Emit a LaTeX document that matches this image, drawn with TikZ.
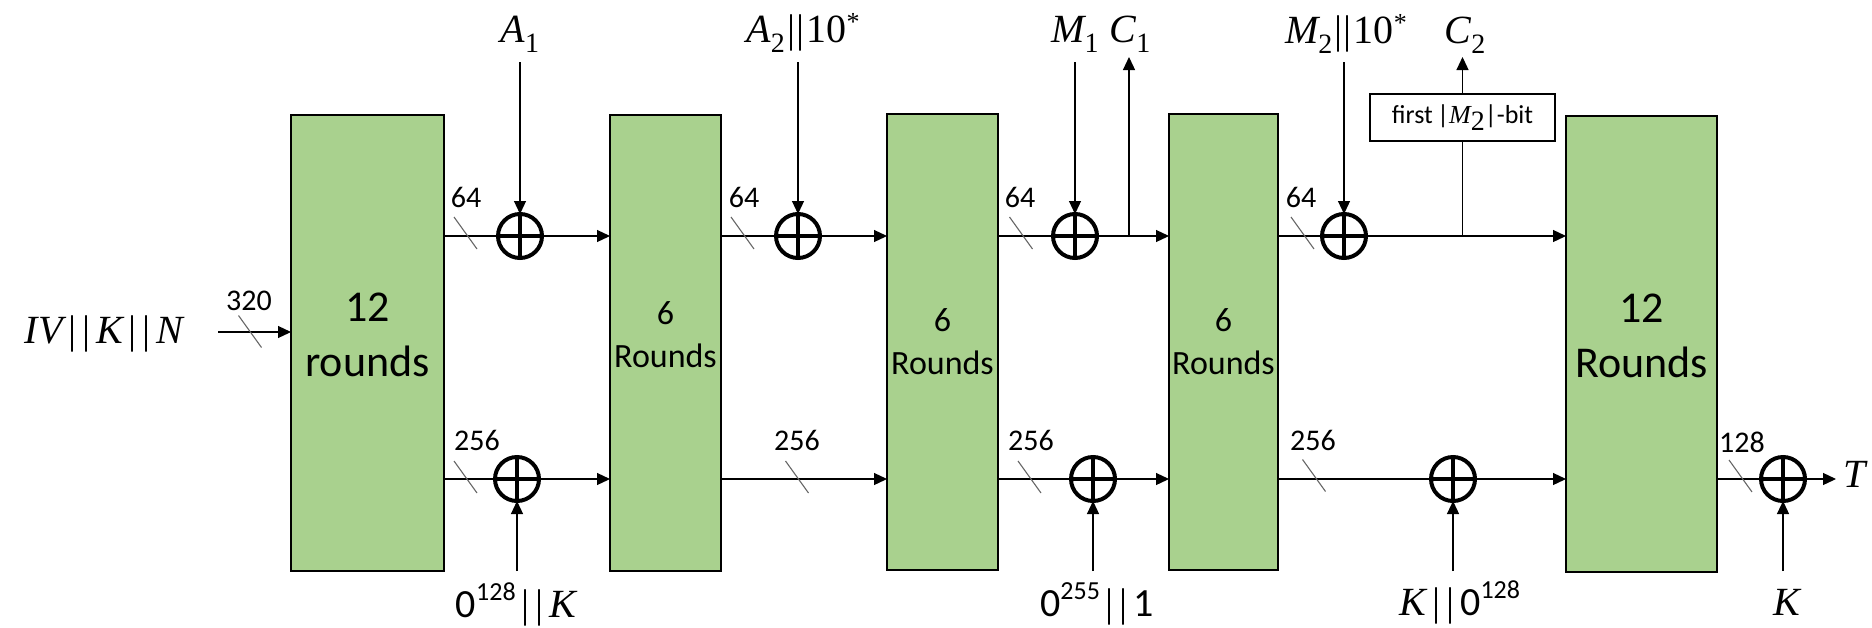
\documentclass[tikz,border=0pt]{standalone}
\usepackage{fontspec}
\setmainfont{Carlito}
\newfontfamily\serifvar{Liberation Serif}
\usetikzlibrary{arrows.meta,calc}

\definecolor{permgreen}{HTML}{A9D18E}

% italic variable, subscript, superscript and concatenation bars
\newcommand{\vv}[1]{{\serifvar\itshape #1}}
\newcommand{\sbs}[1]{\raisebox{-0.25em}{\serifvar\fontsize{14}{14}\selectfont #1}}
\newcommand{\sps}[1]{\raisebox{0.42em}{\fontsize{13}{13}\selectfont #1}}
\newcommand{\ssps}[1]{\raisebox{0.3em}{\serifvar\fontsize{13}{13}\selectfont #1}}
\newcommand{\tcat}{{\serifvar\kern0.06em|\kern0.02em|\kern0.06em}}
\newcommand{\wcat}{{\serifvar\kern0.14em|\kern0.16em|\kern0.14em}}

\tikzset{
  every node/.style={inner sep=0pt, outer sep=0pt},
  perm/.style={draw=black, line width=1pt, fill=permgreen, minimum height=228pt},
  bigtext/.style={font=\fontsize{22}{27.5}\selectfont, align=center},
  smalltext/.style={font=\fontsize{17}{21.5}\selectfont, align=center},
  xor/.style={circle, draw=black, line width=2pt, minimum size=22pt,
    path picture={\draw[line width=2pt]
      (path picture bounding box.north) -- (path picture bounding box.south)
      (path picture bounding box.west) -- (path picture bounding box.east);}},
  wire/.style={line width=0.6pt, draw=black},
  arr/.style={wire, -{Triangle[length=6.5pt,width=6pt]}},
  bus/.style={line width=0.55pt, draw=black!60},
  widthlbl/.style={font=\fontsize{15}{18}\selectfont, anchor=base},
  varlbl/.style={font=\fontsize{20}{24}\selectfont, anchor=base},
  selbox/.style={draw=black, line width=1pt, fill=white, minimum width=92.5pt,
    minimum height=23.5pt, font=\fontsize{13}{16}\selectfont},
}

\begin{document}
\begin{tikzpicture}[x=0.5pt, y=-0.5pt]
\useasboundingbox (0,0) rectangle (1872,627);

% permutation blocks
\node[perm, minimum width=76.5pt, label={[bigtext, yshift=4pt]center:12\\rounds}] (b1) at (367.5,343) {};
\node[perm, minimum width=55.5pt, label={[smalltext, yshift=4pt]center:6\\Rounds}] (b2) at (665.5,343) {};
\node[perm, minimum width=55.5pt, label={[smalltext]center:6\\Rounds}] (b3) at (942.5,342) {};
\node[perm, minimum width=54.5pt, label={[smalltext]center:6\\Rounds}] (b4) at (1223.5,342) {};
\node[perm, minimum width=75.5pt, label={[bigtext, yshift=4pt]center:12\\Rounds}] (b5) at (1641.5,344) {};

% xor gates
\node[xor] (x1t) at (520,236) {};
\node[xor] (x1b) at (517,479) {};
\node[xor] (x2t) at (798,236) {};
\node[xor] (x3t) at (1075,236) {};
\node[xor] (x3b) at (1093,479) {};
\node[xor] (x4t) at (1344,236) {};
\node[xor] (x4b) at (1453,479) {};
\node[xor] (x5)  at (1783,479) {};

% truncation of the last ciphertext block
\node[selbox] (trunc) at (1462.5,117.5) {first\,|\vv{M}\sbs{2}|-bit};

% free ends of the data flow
\coordinate (ivin) at (218,332);
\coordinate (a1in) at (520,62);
\coordinate (a2in) at (798,62);
\coordinate (m1in) at (1075,62);
\coordinate (m2in) at (1344,62);
\coordinate (c1tap) at (1129,236);
\coordinate (c1out) at (1129,57);
\coordinate (c2tap) at (1462.5,236);
\coordinate (c2out) at (1462.5,57);
\coordinate (k1in) at (517,571);
\coordinate (pin) at (1093,571);
\coordinate (k2in) at (1453,571);
\coordinate (k3in) at (1783,571);
\coordinate (tout) at (1836,479);

% input state
\draw[arr] (ivin) -- (b1.west |- ivin);

% rate part (top row)
\draw[wire] (b1.east |- x1t) -- (x1t);
\draw[arr] (x1t) -- (b2.west |- x1t);
\draw[wire] (b2.east |- x2t) -- (x2t);
\draw[arr] (x2t) -- (b3.west |- x2t);
\draw[wire] (b3.east |- x3t) -- (x3t);
\draw[arr] (x3t) -- (b4.west |- x3t);
\draw[wire] (b4.east |- x4t) -- (x4t);
\draw[arr] (x4t) -- (b5.west |- x4t);

% capacity part (bottom row)
\draw[wire] (b1.east |- x1b) -- (x1b);
\draw[arr] (x1b) -- (b2.west |- x1b);
\draw[arr] (b2.east |- x1b) -- (b3.west |- x1b);
\draw[wire] (b3.east |- x3b) -- (x3b);
\draw[arr] (x3b) -- (b4.west |- x3b);
\draw[wire] (b4.east |- x4b) -- (x4b);
\draw[arr] (x4b) -- (b5.west |- x4b);
\draw[wire] (b5.east |- x5) -- (x5);
\draw[arr] (x5) -- (tout);

% absorbed data
\draw[arr] (a1in) -- (x1t);
\draw[arr] (a2in) -- (x2t);
\draw[arr] (m1in) -- (x3t);
\draw[arr] (m2in) -- (x4t);

% squeezed ciphertext
\draw[arr] (c1tap) -- (c1out);
\draw[wire] (c2tap) -- (trunc);
\draw[arr] (trunc) -- (c2out);

% key and domain separation inputs
\draw[arr] (k1in) -- (x1b);
\draw[arr] (pin) -- (x3b);
\draw[arr] (k2in) -- (x4b);
\draw[arr] (k3in) -- (x5);

% bus width marks
\draw[bus] (250,331.5) +(-11.5,-16) -- +(11.5,16);
\draw[bus] (465.5,233) +(-11.5,-16) -- +(11.5,16);
\draw[bus] (465.5,477) +(-11.5,-16) -- +(11.5,16);
\draw[bus] (742.5,233) +(-11.5,-16) -- +(11.5,16);
\draw[bus] (797,477) +(-11.5,-16) -- +(11.5,16);
\draw[bus] (1021,233) +(-11.5,-16) -- +(11.5,16);
\draw[bus] (1029.5,477) +(-11.5,-16) -- +(11.5,16);
\draw[bus] (1302.5,233) +(-11.5,-16) -- +(11.5,16);
\draw[bus] (1314,475.5) +(-11.5,-16) -- +(11.5,16);
\draw[bus] (1740.5,476) +(-11.5,-16) -- +(11.5,16);

% bus widths
\node[widthlbl] (w320) at (249,310) {320};
\node[widthlbl] (w1t) at (466,207) {64};
\node[widthlbl] (w1b) at (477,450) {256};
\node[widthlbl] (w2t) at (744,207) {64};
\node[widthlbl] (w2b) at (797,450) {256};
\node[widthlbl] (w3t) at (1020,207) {64};
\node[widthlbl] (w3b) at (1031,450) {256};
\node[widthlbl] (w4t) at (1301,207) {64};
\node[widthlbl] (w4b) at (1313,450) {256};
\node[widthlbl] (w5) at (1742,452) {128};

% variable names
\node[varlbl] (liv) at (104,343) {\vv{IV}\wcat\vv{K}\wcat\vv{N}};
\node[varlbl] (la1) at (520,42) {\vv{A}\sbs{1}};
\node[varlbl] (la2) at (803,42) {\vv{A}\sbs{2}\tcat{\serifvar 10}\ssps{*}};
\node[varlbl] (lm1) at (1075,42) {\vv{M}\sbs{1}};
\node[varlbl] (lc1) at (1130,42) {\vv{C}\sbs{1}};
\node[varlbl] (lm2) at (1346,43) {\vv{M}\sbs{2}\tcat{\serifvar 10}\ssps{*}};
\node[varlbl] (lc2) at (1465,43) {\vv{C}\sbs{2}};
\node[varlbl] (lk1) at (516,617) {0\sps{128}\wcat\vv{K}};
\node[varlbl] (lp) at (1097,616) {0\sps{255}\wcat 1};
\node[varlbl] (lk2) at (1460,615) {\vv{K}\wcat 0\sps{128}};
\node[varlbl] (lk3) at (1787,615) {\vv{K}};
\node[varlbl, anchor=base west] (lt) at (1843,487) {\vv{T}};
\end{tikzpicture}
\end{document}
